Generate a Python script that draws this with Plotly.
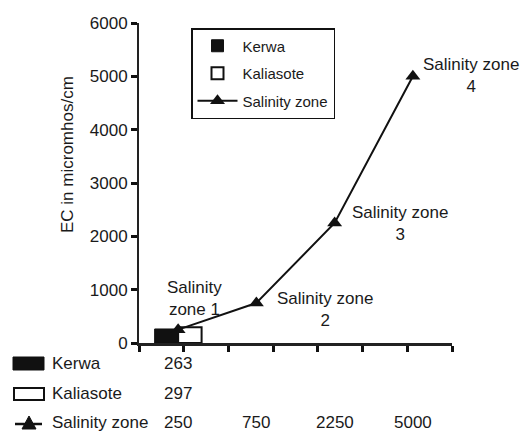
import plotly.graph_objects as go

# ---- data ----
zones = ["Salinity zone 1", "Salinity zone 2", "Salinity zone 3", "Salinity zone 4"]
zone_idx = [0, 1, 2, 3]
salinity_values = [250, 750, 2250, 5000]
kerwa_values = [263]
kaliasote_values = [297]
zone_labels = ["Salinity<br>zone 1", "Salinity zone<br>2", "Salinity zone<br>3", "Salinity zone<br>4"]
y_ticks = [0, 1000, 2000, 3000, 4000, 5000, 6000]

# ---- layout geometry (pixels) ----
W, H = 525, 434
L, R, T, B = 139, 452, 23, 343
FONT = "Liberation Sans, Arial, sans-serif"
TXT = "#1a1a1a"
FS = 17

def px_x(px):
    return (px - L) / (R - L)

def px_y(py):
    return (B - py) / (B - T)

fig = go.Figure()
fig.add_trace(go.Bar(x=[zone_idx[0]], y=kerwa_values, name="Kerwa", width=0.3, offset=-0.3,
                     marker=dict(color="#111111", line=dict(color="#111111", width=1)),
                     legendgroup="a"))
fig.add_trace(go.Bar(x=[zone_idx[0]], y=kaliasote_values, name="Kaliasote", width=0.3, offset=0,
                     marker=dict(color="white", line=dict(color="#111111", width=2)),
                     legendgroup="b"))
fig.add_trace(go.Scatter(x=zone_idx, y=salinity_values, name="Salinity zone", mode="lines+markers",
                         line=dict(color="#111111", width=2),
                         marker=dict(symbol="triangle-up", size=13, color="#111111"),
                         legendgroup="c", cliponaxis=False))

# zone labels near points (pixel centres)
label_pos = [(194, 298), (325, 309), (400, 223), (471, 75)]
for txt, (lx, ly) in zip(zone_labels, label_pos):
    fig.add_annotation(x=px_x(lx), y=px_y(ly), xref="paper", yref="paper", text=txt, showarrow=False,
                       xanchor="center", yanchor="middle",
                       font=dict(size=FS, family=FONT, color=TXT), align="center")

# y title
fig.add_annotation(x=px_x(67), y=px_y(155), xref="paper", yref="paper", text="EC in micromhos/cm",
                   textangle=-90, showarrow=False, xanchor="center", yanchor="middle",
                   font=dict(size=FS, family=FONT, color=TXT))

# data table below the axis
rows = [("Kerwa", kerwa_values, 363), ("Kaliasote", kaliasote_values, 393), ("Salinity zone", salinity_values, 422)]
for name, vals, ry in rows:
    fig.add_annotation(x=px_x(50), y=px_y(ry), xref="paper", yref="paper", text=name,
                       xanchor="left", yanchor="middle", showarrow=False,
                       font=dict(size=FS, family=FONT, color=TXT))
    for i, v in enumerate(vals):
        fig.add_annotation(x=zone_idx[i], y=px_y(ry), xref="x", yref="paper", text=str(v),
                           xanchor="center", yanchor="middle",
                           showarrow=False, font=dict(size=FS, family=FONT, color=TXT))

# table keys
fig.add_shape(type="rect", xref="paper", yref="paper", x0=px_x(13), x1=px_x(44), y0=px_y(357), y1=px_y(370),
              fillcolor="#111111", line=dict(color="#111111", width=1))
fig.add_shape(type="rect", xref="paper", yref="paper", x0=px_x(14), x1=px_x(44), y0=px_y(388), y1=px_y(400),
              fillcolor="white", line=dict(color="#111111", width=2))
fig.add_shape(type="line", xref="paper", yref="paper", x0=px_x(15), x1=px_x(42), y0=px_y(424), y1=px_y(424),
              line=dict(color="#111111", width=2.5))
fig.add_shape(type="path", xref="paper", yref="paper",
              path=f"M {px_x(22)},{px_y(429)} L {px_x(36)},{px_y(429)} L {px_x(29)},{px_y(416)} Z",
              fillcolor="#111111", line=dict(color="#111111", width=1))

n_ticks = 7
fig.update_layout(
    width=W, height=H,
    margin=dict(l=L, r=W - R, t=T, b=H - B, pad=0),
    paper_bgcolor="white", plot_bgcolor="white",
    barmode="overlay",
    font=dict(family=FONT, size=FS, color=TXT),
    showlegend=True,
    legend=dict(x=px_x(191), y=px_y(28), xanchor="left", yanchor="top",
                bordercolor="#111111", borderwidth=1.5, bgcolor="white",
                font=dict(size=15, family=FONT, color=TXT), tracegroupgap=5,
                itemwidth=40, traceorder="grouped"),
    xaxis=dict(range=[-0.5, 3.5], tickmode="array",
               tickvals=[-0.5 + k * 4 / n_ticks for k in range(n_ticks + 1)],
               showticklabels=False, ticks="outside", ticklen=6, tickwidth=3, tickcolor="#111111",
               showline=True, linecolor="#222222", linewidth=3, showgrid=False, zeroline=False),
    yaxis=dict(range=[0, 6000], tickmode="array", tickvals=y_ticks,
               ticks="outside", ticklen=6, tickwidth=3, tickcolor="#111111",
               showline=True, linecolor="#222222", linewidth=2, showgrid=False, zeroline=False,
               tickfont=dict(size=FS, family=FONT, color=TXT)),
)

fig.write_html("out.html", config={"displayModeBar": False},
               post_script="document.body.style.margin='0';document.body.style.overflow='hidden';")
